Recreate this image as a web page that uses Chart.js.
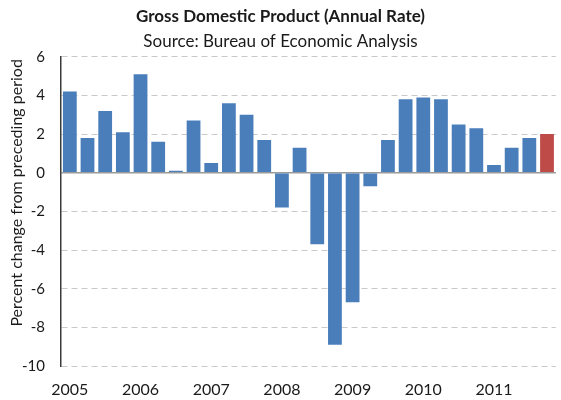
<!DOCTYPE html>
<html>
<head>
<meta charset="utf-8">
<script src="https://cdn.jsdelivr.net/npm/chart.js@4/dist/chart.umd.min.js"></script>
<style>
  html, body { margin: 0; padding: 0; background: #ffffff; }
  #wrap { width: 561px; height: 400px; position: relative; }
</style>
</head>
<body>
<div id="wrap"><canvas id="gdp"></canvas></div>
<script>
// Quarterly real GDP growth, annualised, 2005 Q1 – 2011 Q4
const quarters = [
  '2005 Q1','2005 Q2','2005 Q3','2005 Q4',
  '2006 Q1','2006 Q2','2006 Q3','2006 Q4',
  '2007 Q1','2007 Q2','2007 Q3','2007 Q4',
  '2008 Q1','2008 Q2','2008 Q3','2008 Q4',
  '2009 Q1','2009 Q2','2009 Q3','2009 Q4',
  '2010 Q1','2010 Q2','2010 Q3','2010 Q4',
  '2011 Q1','2011 Q2','2011 Q3','2011 Q4'
];
const gdpGrowth = [
  4.2, 1.8, 3.2, 2.1,
  5.1, 1.6, 0.1, 2.7,
  0.5, 3.6, 3.0, 1.7,
  -1.8, 1.3, -3.7, -8.9,
  -6.7, -0.7, 1.7, 3.8,
  3.9, 3.8, 2.5, 2.3,
  0.4, 1.3, 1.8, 2.0
];
// Year labels shown under the first quarter of each year
const yearLabels = ['2005','2006','2007','2008','2009','2010','2011'];
const yTicks = [6, 4, 2, 0, -2, -4, -6, -8, -10];
const yTitle = 'Percent change from preceding period';

const FONT = 'Lato, "Open Sans", sans-serif';
const BLUE = '#4a7ebb';
const RED = '#be4b48';
const lastIndex = gdpGrowth.length - 1;

// Vertical axis title, drawn beside the value axis
const yTitlePlugin = {
  id: 'yTitle',
  afterDraw(chart) {
    const ctx = chart.ctx;
    const area = chart.chartArea;
    ctx.save();
    ctx.translate(17, area.top + (area.bottom - area.top) * 0.44);
    ctx.rotate(-Math.PI / 2);
    ctx.font = '16px ' + FONT;
    ctx.fillStyle = '#1a1a1a';
    ctx.textAlign = 'center';
    ctx.textBaseline = 'middle';
    ctx.fillText(yTitle, 0, 0);
    ctx.restore();
  }
};

new Chart(document.getElementById('gdp'), {
  type: 'bar',
  data: {
    labels: quarters,
    datasets: [{
      label: 'GDP',
      data: gdpGrowth,
      backgroundColor: ctx => ctx.dataIndex === lastIndex ? RED : BLUE,
      borderWidth: 0,
      barPercentage: 0.78,
      categoryPercentage: 1.0
    }]
  },
  plugins: [yTitlePlugin],
  options: {
    responsive: true,
    maintainAspectRatio: false,
    animation: false,
    layout: { padding: { left: 0, right: 0, top: 6, bottom: 0 } },
    plugins: {
      legend: { display: false },
      tooltip: { enabled: false },
      title: {
        display: true,
        text: 'Gross Domestic Product (Annual Rate)',
        color: '#1a1a1a',
        font: { family: FONT, size: 17, weight: 'bold' },
        padding: { top: 0, bottom: 5 }
      },
      subtitle: {
        display: true,
        text: 'Source: Bureau of Economic Analysis',
        color: '#1a1a1a',
        font: { family: FONT, size: 17 },
        padding: { top: 0, bottom: 5 }
      }
    },
    scales: {
      x: {
        grid: { display: false, drawTicks: false },
        border: { display: false },
        ticks: {
          autoSkip: false,
          maxRotation: 0,
          padding: 14,
          color: '#1a1a1a',
          font: { family: FONT, size: 16 },
          callback: function (value, index) {
            return index % 4 === 0 ? yearLabels[index / 4] : '';
          }
        },
        afterFit: s => { s.height = 34; }
      },
      y: {
        min: -10,
        max: 6,
        afterBuildTicks: s => { s.ticks = yTicks.map(v => ({ value: v })); },
        grid: {
          drawTicks: false,
          color: ctx => ctx.tick && ctx.tick.value === 0 ? '#9a9a9a' : '#c9c9c9',
          lineWidth: ctx => ctx.tick && ctx.tick.value === 0 ? 1.5 : 1
        },
        border: {
          display: true,
          color: '#3a3a3a',
          width: 1.5,
          dash: ctx => ctx.tick && ctx.tick.value === 0 ? [] : [6, 4]
        },
        ticks: {
          padding: 16,
          color: '#1a1a1a',
          font: { family: FONT, size: 15 }
        },
        afterFit: s => { s.width = 61; }
      }
    }
  }
});
</script>
</body>
</html>
